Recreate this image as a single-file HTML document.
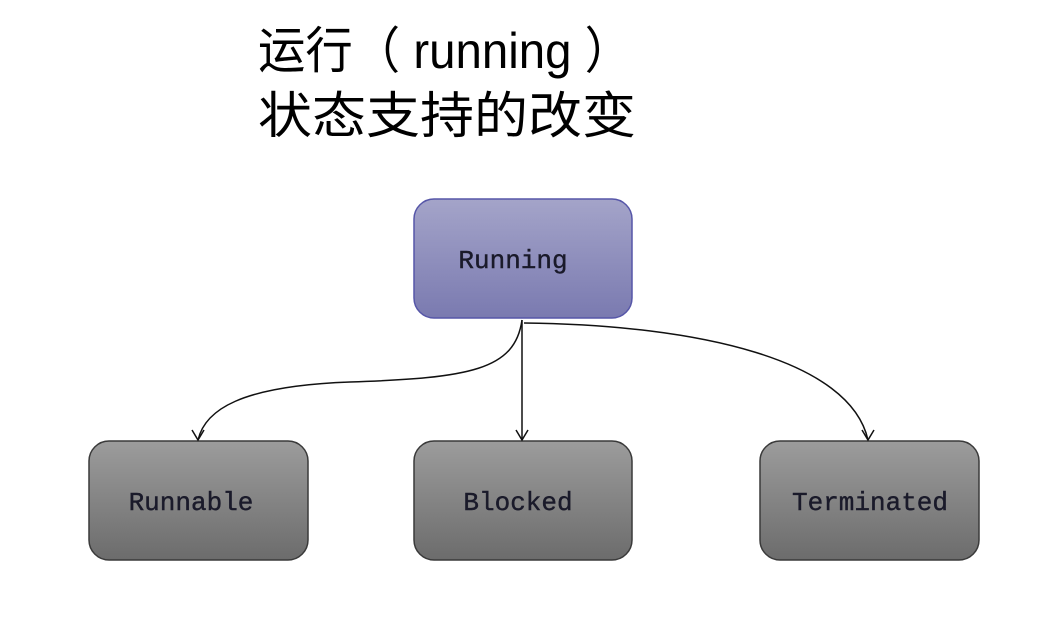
<!DOCTYPE html>
<html><head><meta charset="utf-8"><style>
html,body{margin:0;padding:0;background:#fff;width:1058px;height:626px;overflow:hidden}
</style></head><body>
<svg width="1058" height="626" xmlns="http://www.w3.org/2000/svg">
<defs>
<linearGradient id="p" x1="0" y1="0" x2="0" y2="1"><stop offset="0" stop-color="#a4a4c9"/><stop offset="1" stop-color="#7a7ab0"/></linearGradient>
<linearGradient id="g" x1="0" y1="0" x2="0" y2="1"><stop offset="0" stop-color="#9c9c9c"/><stop offset="1" stop-color="#6c6c6c"/></linearGradient>
</defs>
<text x="258" y="68" font-family="Liberation Sans, Noto Sans CJK SC, sans-serif" font-size="50" fill="#000" textLength="374" lengthAdjust="spacingAndGlyphs">运行（ running ）</text>
<text x="258" y="133" font-family="Liberation Sans, Noto Sans CJK SC, sans-serif" font-size="50" fill="#000" textLength="378" lengthAdjust="spacingAndGlyphs">状态支持的改变</text>
<rect x="414" y="199" width="218" height="119" rx="20" fill="url(#p)" stroke="#5656a8" stroke-width="1.5"/>
<rect x="89" y="441" width="219" height="119" rx="20" fill="url(#g)" stroke="#3a3a3a" stroke-width="1.5"/>
<rect x="414" y="441" width="218" height="119" rx="20" fill="url(#g)" stroke="#3a3a3a" stroke-width="1.5"/>
<rect x="760" y="441" width="219" height="119" rx="20" fill="url(#g)" stroke="#3a3a3a" stroke-width="1.5"/>
<g font-family="Liberation Mono, monospace" font-size="26" fill="#1a1a2a" text-anchor="middle" stroke="#1a1a2a" stroke-width="0.4">
<text x="513" y="268">Running</text>
<text x="191" y="510">Runnable</text>
<text x="518" y="510">Blocked</text>
<text x="870" y="510">Terminated</text>
</g>
<g fill="none" stroke="#111" stroke-width="1.5">
<path d="M522 320 C515 370 470 378 350 382 C240 386 205 410 198 440"/>
<path d="M522 320 L522 440"/>
<path d="M524 323 C700 325 850 360 868 440"/>
<path d="M192 430 L198 440 L204 430"/>
<path d="M516 430 L522 440 L528 430"/>
<path d="M862 430 L868 440 L874 430"/>
</g>
</svg>
</body></html>
